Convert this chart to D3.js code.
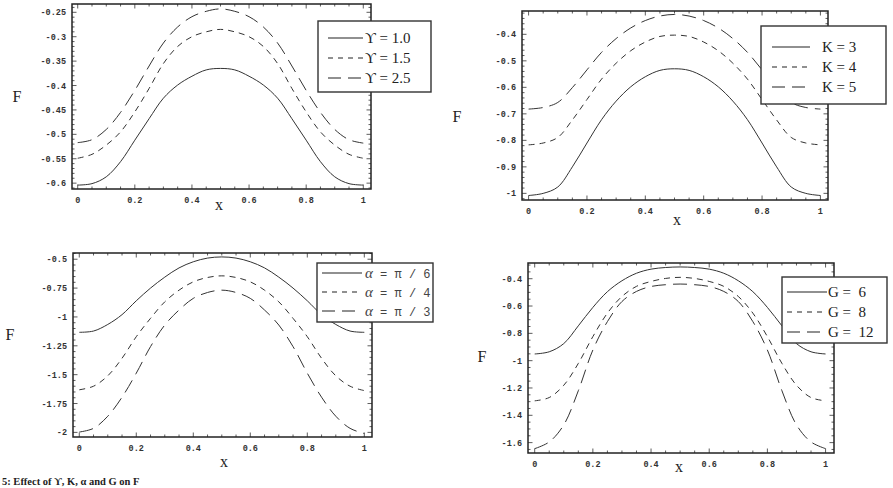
<!DOCTYPE html>
<html>
<head>
<meta charset="utf-8">
<script src="https://cdn.jsdelivr.net/npm/d3@7"></script>
<style>
  body { margin: 0; background: #fff; }
  svg { display: block; }
  .tick-label { font-family: "Liberation Mono", monospace; font-size: 8.5px; font-weight: bold; fill: #333; }
  .axis-title { font-family: "Liberation Serif", serif; font-size: 16px; fill: #222; }
  .legend-text { font-family: "Liberation Serif", serif; font-size: 15px; fill: #222; white-space: pre; }
</style>
</head>
<body>
<svg id="chart" width="893" height="488"></svg>
<script>
// x grid shared by all four panels
const xs = [0, 0.05, 0.1, 0.15, 0.2, 0.25, 0.3, 0.35, 0.4, 0.45, 0.5,
            0.55, 0.6, 0.65, 0.7, 0.75, 0.8, 0.85, 0.9, 0.95, 1];

// panel (a): effect of gamma
const gammaLabels = ["ϒ = 1.0", "ϒ = 1.5", "ϒ = 2.5"];
const gamma10 = [-0.604,-0.601,-0.587,-0.556,-0.512,-0.468,-0.426,-0.399,-0.381,-0.368,-0.365,-0.368,-0.381,-0.399,-0.426,-0.468,-0.512,-0.556,-0.587,-0.601,-0.604];
const gamma15 = [-0.549,-0.541,-0.522,-0.495,-0.454,-0.406,-0.355,-0.320,-0.300,-0.290,-0.285,-0.290,-0.300,-0.320,-0.355,-0.406,-0.454,-0.495,-0.522,-0.541,-0.549];
const gamma25 = [-0.517,-0.511,-0.490,-0.455,-0.410,-0.360,-0.313,-0.280,-0.259,-0.248,-0.243,-0.248,-0.259,-0.280,-0.313,-0.360,-0.410,-0.455,-0.490,-0.511,-0.518];
const gammaYTicks = [-0.6, -0.55, -0.5, -0.45, -0.4, -0.35, -0.3, -0.25];
const gammaYTickText = ["-0.6", "-0.55", "-0.5", "-0.45", "-0.4", "-0.35", "-0.3", "-0.25"];

// panel (b): effect of K
const kLabels = ["K = 3", "K = 4", "K = 5"];
const k3 = [-1.008,-1.000,-0.976,-0.900,-0.810,-0.722,-0.652,-0.598,-0.560,-0.536,-0.530,-0.536,-0.560,-0.598,-0.652,-0.722,-0.810,-0.900,-0.976,-1.000,-1.008];
const k4 = [-0.817,-0.810,-0.789,-0.723,-0.646,-0.569,-0.509,-0.462,-0.429,-0.408,-0.403,-0.408,-0.429,-0.462,-0.509,-0.569,-0.646,-0.723,-0.789,-0.810,-0.817];
const k5 = [-0.682,-0.676,-0.657,-0.601,-0.534,-0.468,-0.416,-0.376,-0.348,-0.331,-0.325,-0.331,-0.348,-0.376,-0.416,-0.468,-0.534,-0.601,-0.657,-0.676,-0.682];
const kYTicks = [-1, -0.9, -0.8, -0.7, -0.6, -0.5, -0.4];
const kYTickText = ["-1", "-0.9", "-0.8", "-0.7", "-0.6", "-0.5", "-0.4"];

// panel (c): effect of alpha
const alphaLabels = ["π / 6", "π / 4", "π / 3"];
const alpha6 = [-1.133,-1.122,-1.065,-0.980,-0.860,-0.750,-0.655,-0.575,-0.522,-0.490,-0.480,-0.490,-0.522,-0.575,-0.655,-0.750,-0.860,-0.980,-1.065,-1.122,-1.133];
const alpha4 = [-1.631,-1.600,-1.510,-1.358,-1.171,-1.012,-0.869,-0.768,-0.696,-0.658,-0.644,-0.658,-0.696,-0.768,-0.869,-1.012,-1.171,-1.358,-1.510,-1.600,-1.638];
const alpha3 = [-1.997,-1.965,-1.860,-1.695,-1.487,-1.257,-1.070,-0.940,-0.839,-0.788,-0.768,-0.788,-0.839,-0.940,-1.070,-1.257,-1.487,-1.695,-1.860,-1.965,-2.010];
const alphaYTicks = [-2, -1.75, -1.5, -1.25, -1, -0.75, -0.5];
const alphaYTickText = ["-2", "-1.75", "-1.5", "-1.25", "-1", "-0.75", "-0.5"];

// panel (d): effect of G
const gLabels = ["G =  6", "G =  8", "G =  12"];
const g6 = [-0.951,-0.935,-0.875,-0.745,-0.610,-0.495,-0.415,-0.360,-0.330,-0.318,-0.314,-0.318,-0.330,-0.360,-0.415,-0.495,-0.610,-0.745,-0.875,-0.935,-0.951];
const g8 = [-1.294,-1.270,-1.180,-1.020,-0.824,-0.652,-0.530,-0.456,-0.420,-0.398,-0.390,-0.398,-0.420,-0.456,-0.530,-0.652,-0.824,-1.020,-1.180,-1.270,-1.294];
const g12 = [-1.644,-1.595,-1.470,-1.220,-0.922,-0.714,-0.567,-0.493,-0.457,-0.444,-0.439,-0.444,-0.457,-0.493,-0.567,-0.714,-0.922,-1.220,-1.470,-1.595,-1.644];
const gYTicks = [-1.6, -1.4, -1.2, -1, -0.8, -0.6, -0.4];
const gYTickText = ["-1.6", "-1.4", "-1.2", "-1", "-0.8", "-0.6", "-0.4"];

const xTicks = [0, 0.2, 0.4, 0.6, 0.8, 1];
const xTickText = ["0", "0.2", "0.4", "0.6", "0.8", "1"];

// line styles: solid, short dash, long dash
const dashes = [null, "6,5", "14,7"];
const legendDashes = [null, "5,5", "13,7"];

const svg = d3.select("#chart");

// frame box, axis domains, legend placement per panel
const panels = [
  { frame: [72, 4, 371, 189], xDom: [-0.02, 1.027], yDom: [-0.612, -0.233],
    series: [gamma10, gamma15, gamma25], labels: gammaLabels,
    yTicks: gammaYTicks, yText: gammaYTickText, yMinor: 0.01,
    xTitle: [219, 210], fTitle: [17, 102],
    legend: { box: [318, 21, 431, 92], line: [328, 363], textX: 365, rows: [38, 58, 78] } },
  { frame: [522, 11, 828, 200], xDom: [-0.0226, 1.026], yDom: [-1.025, -0.312],
    series: [k3, k4, k5], labels: kLabels,
    yTicks: kYTicks, yText: kYTickText, yMinor: 0.02,
    xTitle: [677, 225], fTitle: [457, 122],
    legend: { box: [761, 26, 886, 104], line: [772, 810], textX: 822, rows: [47, 67, 87] } },
  { frame: [73, 253, 372, 437], xDom: [-0.022, 1.027], yDom: [-2.04, -0.446],
    series: [alpha6, alpha4, alpha3], labels: alphaLabels, alpha: true,
    yTicks: alphaYTicks, yText: alphaYTickText, yMinor: 0.05,
    xTitle: [224, 467], fTitle: [10, 340],
    legend: { box: [317, 263, 433, 322], line: [322, 362], textX: 365, rows: [273, 292, 311] } },
  { frame: [528, 263, 834, 453], xDom: [-0.023, 1.029], yDom: [-1.676, -0.285],
    series: [g6, g8, g12], labels: gLabels,
    yTicks: gYTicks, yText: gYTickText, yMinor: 0.05,
    xTitle: [679, 472], fTitle: [482, 362],
    legend: { box: [782, 277, 887, 343], line: [787, 827], textX: 828, rows: [292, 312, 332] } }
];

panels.forEach(p => {
  const [x0, y0, x1, y1] = p.frame;
  const x = d3.scaleLinear().domain(p.xDom).range([x0, x1]);
  const y = d3.scaleLinear().domain(p.yDom).range([y1, y0]);
  const g = svg.append("g");

  // curves, clipped to the frame
  const clipId = "clip" + x0 + "_" + y0;
  svg.append("clipPath").attr("id", clipId)
    .append("rect").attr("x", x0).attr("y", y0).attr("width", x1 - x0).attr("height", y1 - y0);

  const line = d3.line()
    .x((d, i) => x(xs[i]))
    .y(d => y(d))
    .curve(d3.curveCatmullRom.alpha(0.5));

  g.append("g").attr("clip-path", `url(#${clipId})`)
    .selectAll("path")
    .data(p.series)
    .enter()
    .append("path")
    .attr("d", line)
    .attr("fill", "none")
    .attr("stroke", "#333")
    .attr("stroke-width", 1)
    .attr("stroke-dasharray", (d, i) => dashes[i]);

  // minor + major ticks on all four sides, pointing inward
  const xMinor = d3.range(0, 1.0001, 0.05);
  const yMinor = d3.range(Math.ceil(p.yDom[0] / p.yMinor) * p.yMinor, p.yDom[1], p.yMinor);
  const ticks = g.append("g").attr("stroke", "#333").attr("stroke-width", 0.8);
  xMinor.forEach(v => {
    const major = xTicks.some(t => Math.abs(t - v) < 1e-6);
    const len = major ? 4.5 : 2.5;
    ticks.append("line").attr("x1", x(v)).attr("x2", x(v)).attr("y1", y1).attr("y2", y1 - len);
    ticks.append("line").attr("x1", x(v)).attr("x2", x(v)).attr("y1", y0).attr("y2", y0 + len);
  });
  yMinor.forEach(v => {
    const major = p.yTicks.some(t => Math.abs(t - v) < 1e-6);
    const len = major ? 4.5 : 2.5;
    ticks.append("line").attr("x1", x0).attr("x2", x0 + len).attr("y1", y(v)).attr("y2", y(v));
    ticks.append("line").attr("x1", x1).attr("x2", x1 - len).attr("y1", y(v)).attr("y2", y(v));
  });

  // frame
  g.append("rect")
    .attr("x", x0).attr("y", y0).attr("width", x1 - x0).attr("height", y1 - y0)
    .attr("fill", "none").attr("stroke", "#222").attr("stroke-width", 1.5);

  // tick labels
  g.selectAll(".xt").data(xTicks).enter().append("text")
    .attr("class", "tick-label")
    .attr("x", d => x(d)).attr("y", y1 + 14)
    .attr("text-anchor", "middle")
    .text((d, i) => xTickText[i]);
  g.selectAll(".yt").data(p.yTicks).enter().append("text")
    .attr("class", "tick-label")
    .attr("x", x0 - 6).attr("y", d => y(d) + 3)
    .attr("text-anchor", "end")
    .text((d, i) => p.yText[i]);

  // axis titles
  g.append("text").attr("class", "axis-title")
    .attr("x", p.xTitle[0]).attr("y", p.xTitle[1])
    .attr("text-anchor", "middle").text("x");
  g.append("text").attr("class", "axis-title")
    .attr("x", p.fTitle[0]).attr("y", p.fTitle[1])
    .attr("text-anchor", "middle").text("F");

  // legend
  const L = p.legend;
  g.append("rect")
    .attr("x", L.box[0]).attr("y", L.box[1])
    .attr("width", L.box[2] - L.box[0]).attr("height", L.box[3] - L.box[1])
    .attr("fill", "#fff").attr("stroke", "#333").attr("stroke-width", 1.4);
  p.labels.forEach((lab, i) => {
    g.append("line")
      .attr("x1", L.line[0]).attr("x2", L.line[1])
      .attr("y1", L.rows[i]).attr("y2", L.rows[i])
      .attr("stroke", "#222").attr("stroke-width", 1.1)
      .attr("stroke-dasharray", legendDashes[i]);
    if (p.alpha) {
      const t = g.append("text")
        .attr("x", L.textX).attr("y", L.rows[i] + 4.5)
        .style("font-family", "'Liberation Mono', monospace")
        .style("font-size", "12px").style("fill", "#444");
      t.append("tspan").style("font-style", "italic").style("font-family", "'Liberation Serif', serif")
        .style("font-size", "15px").text("α");
      t.append("tspan").text(" = " + lab);
    } else {
      g.append("text").attr("class", "legend-text")
        .attr("x", L.textX).attr("y", L.rows[i] + 5)
        .text(lab);
    }
  });
});

// figure caption along the bottom edge
svg.append("text")
  .attr("x", 2).attr("y", 485)
  .style("font-family", "'Liberation Serif', serif")
  .style("font-size", "10.5px").style("font-weight", "bold").style("fill", "#222")
  .text("5: Effect of ϒ, K, α and G on F");
</script>
</body>
</html>
